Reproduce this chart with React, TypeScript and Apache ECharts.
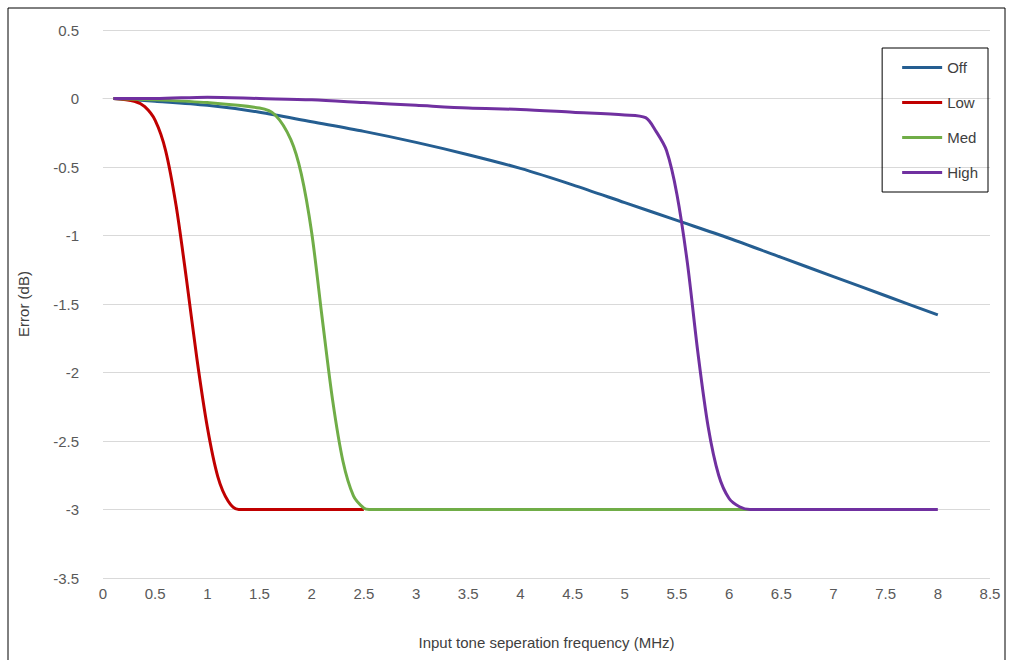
import React, { useEffect, useRef } from 'react';
import * as echarts from 'echarts';

const offData = [[0.1, 0], [0.5, -0.02], [1, -0.05], [1.5, -0.1], [2, -0.17], [2.5, -0.24], [3, -0.32], [3.5, -0.41], [4, -0.51], [4.5, -0.63], [5, -0.76], [5.5, -0.89], [6, -1.02], [6.5, -1.16], [7, -1.3], [7.5, -1.44], [8, -1.58]];
const lowData = [[0.1, 0], [0.3, -0.02], [0.4, -0.06], [0.5, -0.16], [0.6, -0.38], [0.7, -0.78], [0.8, -1.32], [0.9, -1.9], [1.0, -2.4], [1.1, -2.76], [1.2, -2.94], [1.3, -3], [2.5, -3]];
const medData = [[0.1, 0], [0.5, -0.01], [1.0, -0.03], [1.5, -0.07], [1.65, -0.12], [1.8, -0.3], [1.9, -0.55], [2.0, -0.98], [2.1, -1.6], [2.2, -2.2], [2.3, -2.65], [2.4, -2.9], [2.5, -2.99], [2.55, -3], [6.2, -3]];
const highData = [[0.1, 0], [0.5, 0], [1, 0.01], [1.5, 0], [2, -0.01], [2.5, -0.03], [3, -0.05], [3.5, -0.07], [4, -0.08], [4.5, -0.1], [5, -0.12], [5.2, -0.14], [5.3, -0.24], [5.4, -0.38], [5.5, -0.7], [5.6, -1.2], [5.7, -1.85], [5.8, -2.4], [5.9, -2.75], [6.0, -2.92], [6.1, -2.98], [6.2, -3], [8, -3]];

const App: React.FC = () => {
  const ref = useRef<HTMLDivElement>(null);
  useEffect(() => {
    if (!ref.current) return;
    const chart = echarts.init(ref.current, undefined, { renderer: 'svg' });
    const line = (name: string, data: number[][], color: string) => ({
      name, type: 'line', data, smooth: 0.3, showSymbol: false,
      lineStyle: { color, width: 3 }, itemStyle: { color },
    });
    const txt = { color: '#595959', fontSize: 15, fontFamily: 'Liberation Sans, Arial' };
    chart.setOption({
      animation: false,
      grid: { left: 103, right: 23, top: 30, bottom: 82 },
      graphic: [{ type: 'rect', shape: { x: 8, y: 8, width: 997, height: 700 }, style: { fill: 'none', stroke: '#000', lineWidth: 1 } }],
      legend: {
        right: 25, top: 48, orient: 'vertical', itemWidth: 40, itemHeight: 3, itemGap: 20,
        padding: [12, 10, 12, 20], borderColor: '#000', borderWidth: 1,
        icon: 'rect', textStyle: { ...txt, color: '#404040' },
        data: ['Off', 'Low', 'Med', 'High'],
      },
      xAxis: {
        type: 'value', min: 0, max: 8.5, interval: 0.5,
        name: 'Input tone seperation frequency (MHz)', nameLocation: 'middle', nameGap: 57,
        nameTextStyle: { ...txt, color: '#404040' },
        axisLabel: { ...txt }, axisLine: { lineStyle: { color: '#d9d9d9' } }, axisTick: { show: false },
        splitLine: { show: false },
      },
      yAxis: {
        type: 'value', min: -3.5, max: 0.5, interval: 0.5,
        name: 'Error (dB)', nameLocation: 'middle', nameGap: 72, nameRotate: 90,
        nameTextStyle: { ...txt, color: '#404040' },
        axisLabel: { ...txt, margin: 24 }, axisLine: { show: false }, axisTick: { show: false },
        splitLine: { lineStyle: { color: '#d9d9d9' } },
      },
      series: [
        line('Off', offData, '#255e91'),
        line('Low', lowData, '#c00000'),
        line('Med', medData, '#70ad47'),
        line('High', highData, '#7030a0'),
      ],
    });
    return () => chart.dispose();
  }, []);
  return <div ref={ref} style={{ position: 'fixed', left: 0, top: 0, width: 1013, height: 660, background: '#fff' }} />;
};

export default App;
